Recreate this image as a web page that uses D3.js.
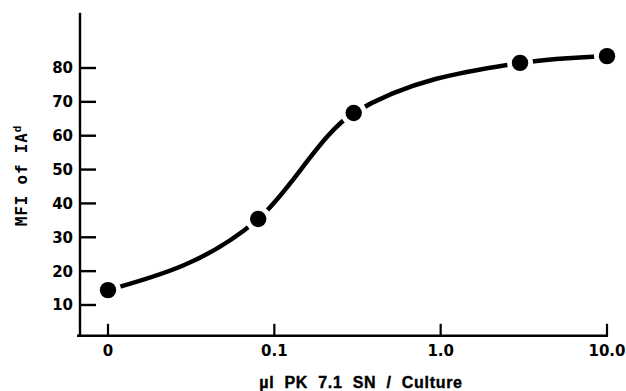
<!DOCTYPE html>
<html>
<head>
<meta charset="utf-8">
<script src="https://cdn.jsdelivr.net/npm/d3@7"></script>
<style>
  html, body { margin: 0; padding: 0; background: #fff; }
  svg { display: block; }
</style>
</head>
<body>
<svg id="chart" width="626" height="391"></svg>
<script>
// ---- data ----
const doses = [0, 0.08, 0.3, 3, 10];          // µl PK 7.1 SN / culture
const mfi = [14.4, 35.4, 66.7, 81.5, 83.5];    // MFI of IA^d
const xTickValues = [0, 0.1, 1, 10];
const xTickLabels = ["0", "0.1", "1.0", "10.0"];
const yTickValues = [10, 20, 30, 40, 50, 60, 70, 80];
const yTickLabels = ["10", "20", "30", "40", "50", "60", "70", "80"];
const zeroPlotAt = 0.01; // "0" is drawn one decade below 0.1

const svg = d3.select("#chart");
const ink = "#000";

const x = d3.scaleLog().domain([0.01, 10]).range([108, 607]);
const xp = d => x(d === 0 ? zeroPlotAt : d);
const y = d3.scaleLinear().domain([10, 80]).range([305, 68]);

// axes lines
const yTop = y(96.3), yBot = y(0.9);
const axisX = x(0.01) - 28;
svg.append("line").attr("x1", axisX).attr("x2", axisX).attr("y1", yTop).attr("y2", yBot + 1)
  .attr("stroke", ink).attr("stroke-width", 2.4);
svg.append("line").attr("x1", axisX - 3).attr("x2", x(10) + 1).attr("y1", yBot).attr("y2", yBot)
  .attr("stroke", ink).attr("stroke-width", 2.4);

// y ticks (inward)
const yt = svg.append("g");
yTickValues.forEach((v, i) => {
  yt.append("line").attr("x1", axisX).attr("x2", axisX + 16).attr("y1", y(v)).attr("y2", y(v))
    .attr("stroke", ink).attr("stroke-width", 2.4);
  yt.append("text").attr("x", axisX - 7).attr("y", y(v)).attr("dy", "0.36em")
    .attr("text-anchor", "end").attr("font-family", "DejaVu Sans").attr("font-weight", "bold")
    .attr("font-size", 15).attr("fill", ink).text(yTickLabels[i]);
});

// x ticks (upward)
const xt = svg.append("g");
xTickValues.forEach((v, i) => {
  xt.append("line").attr("x1", xp(v)).attr("x2", xp(v)).attr("y1", yBot).attr("y2", yBot - 12)
    .attr("stroke", ink).attr("stroke-width", 2.2);
  xt.append("text").attr("x", xp(v)).attr("y", yBot + 20)
    .attr("text-anchor", "middle").attr("font-family", "DejaVu Sans").attr("font-weight", "bold")
    .attr("font-size", 15).attr("fill", ink).text(xTickLabels[i]);
});

// curve
const pts = doses.map((d, i) => [xp(d), y(mfi[i])]);
const line = d3.line().curve(d3.curveMonotoneX);
svg.append("path").attr("d", line(pts)).attr("fill", "none")
  .attr("stroke", ink).attr("stroke-width", 4.5);

// white gaps around dots
svg.selectAll("circle.halo").data(pts).join("circle").attr("class", "halo")
  .attr("cx", d => d[0]).attr("cy", d => d[1]).attr("r", 13).attr("fill", "#fff");
svg.selectAll("circle.dot").data(pts).join("circle").attr("class", "dot")
  .attr("cx", d => d[0]).attr("cy", d => d[1]).attr("r", 8.2).attr("fill", ink);

// axis titles
svg.append("text").attr("x", 361).attr("y", 388).attr("text-anchor", "middle")
  .attr("font-family", "Liberation Sans").attr("font-weight", "bold").attr("font-size", 16)
  .attr("letter-spacing", "0.7px").attr("word-spacing", "5px")
  .attr("stroke", ink).attr("stroke-width", 0.4)
  .attr("fill", ink).text("µl PK 7.1 SN / Culture");

const yl = svg.append("text").attr("transform", "translate(27,175.5) rotate(-90)")
  .attr("text-anchor", "middle").attr("font-family", "DejaVu Sans Mono").attr("font-weight", "bold")
  .attr("font-size", 16).attr("letter-spacing", "0.8px").attr("fill", ink);
yl.append("tspan").text("MFI of IA");
yl.append("tspan").attr("font-size", 11).attr("dy", -6).text("d");
</script>
</body>
</html>
